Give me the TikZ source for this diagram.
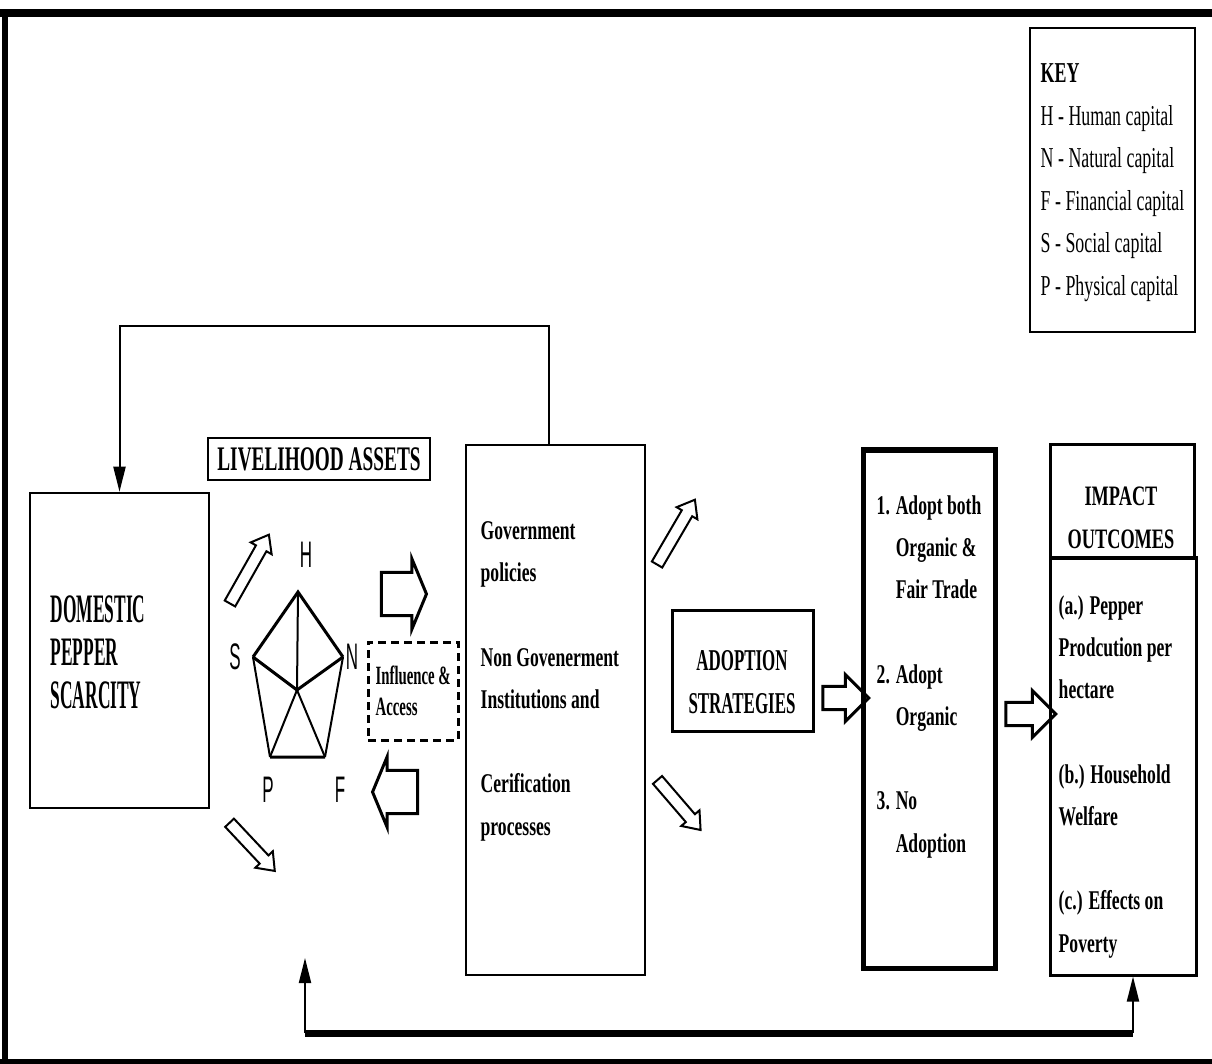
\documentclass[tikz,border=0pt]{standalone}
\usepackage{fontspec}
\setmainfont{Liberation Serif}
\newfontfamily\bodyserif[FakeStretch=0.65]{Liberation Serif}
\newfontfamily\keyserif[FakeStretch=0.62]{Liberation Serif}
\newfontfamily\capserif[FakeStretch=0.56]{Liberation Serif}
\newfontfamily\domserif[FakeStretch=0.43]{Liberation Serif}
\newfontfamily\pentsans[FakeStretch=0.46]{Liberation Sans}
\usetikzlibrary{shapes.arrows, arrows.meta, positioning, fit}

\begin{document}
\begin{tikzpicture}[x=0.01cm, y=-0.01cm,
  box/.style={draw, line width=0.025cm, inner sep=0pt},
  heavybox/.style={box, line width=0.05cm},
  boxtext/.style={font=\bodyserif\bfseries\fontsize{7.7}{12}\selectfont,
                  align=left, inner sep=0pt, anchor=north west},
  boxtitle/.style={font=\capserif\bfseries\fontsize{8.6}{12.2}\selectfont,
                   align=center, inner sep=0pt, anchor=north},
  keytext/.style={font=\keyserif\fontsize{8.2}{12.1}\selectfont,
                  align=left, inner sep=0pt, anchor=north west},
  pentlabel/.style={font=\pentsans\fontsize{10.5}{12}\selectfont, inner sep=0pt},
  slimarrow/.style={single arrow, draw, line width=0.02cm, inner xsep=0pt,
                    inner ysep=0.05cm, single arrow head extend=0.06cm,
                    single arrow tip angle=75},
  blockarrow/.style={single arrow, draw, line width=0.03cm, inner xsep=0pt,
                     inner ysep=0.2cm, single arrow head extend=0.14cm,
                     single arrow tip angle=135, minimum height=0.45cm},
  flowarrow/.style={single arrow, draw, line width=0.03cm, inner xsep=0pt,
                    inner ysep=0.1cm, single arrow head extend=0.12cm,
                    single arrow tip angle=90},
  arr/.style={-{Triangle[length=0.25cm, width=0.12cm]}, line width=0.02cm}
]
\useasboundingbox (0,0) rectangle (1212,1064);
\draw[line width=0.08cm] (0,13) -- (1212,13);
\draw[line width=0.05cm] (5,13) -- (5,1061);
\draw[line width=0.05cm] (0,1061) -- (1212,1061);

% key
\node[box, fit={(1030,28) (1195,332)}] (key) {};
\node[keytext] (keylist) at (1040,63) {\bfseries KEY\\H - Human capital\\N - Natural capital\\
  F - Financial capital\\S - Social capital\\P - Physical capital};

% boxes
\node[box, fit={(30,493) (209,808)}] (dom) {};
\node[boxtext, font=\domserif\bfseries\fontsize{11.5}{12.2}\selectfont] (domtxt)
  at (50,595) {DOMESTIC\\PEPPER\\SCARCITY};
\node[box, fit={(208,438) (430,480)}] (assets) {};
\node[font=\capserif\bfseries\fontsize{9.8}{12}\selectfont, inner sep=0pt] (assetstxt)
  at (assets.center) {LIVELIHOOD ASSETS};
\node[box, fit={(466,445) (645,975)}] (gov) {};
\node[boxtext] (govtxt) at (480,521) {Government\\policies\\[12pt]Non Govenerment\\
  Institutions and\\[12pt]Cerification\\processes};
\node[box, line width=0.03cm, fit={(672,610) (813,731)}] (adopt) {};
\node[boxtitle] (adopttxt) at (742,650) {ADOPTION\\STRATEGIES};
\node[heavybox, fit={(863,450) (995,968)}] (strat) {};
\node[boxtext] (strattxt) at (876,495) {1. Adopt both\\\phantom{1. }Organic \&\\
  \phantom{1. }Fair Trade\\[12pt]2. Adopt\\\phantom{2. }Organic\\[12pt]3. No\\
  \phantom{3. }Adoption};
\node[box, line width=0.03cm, fit={(1050,445) (1194,558)}] (imphead) {};
\node[boxtitle, font=\bodyserif\bfseries\fontsize{8}{12.2}\selectfont] (imptitle)
  at (1121,486) {IMPACT\\OUTCOMES};
\node[box, line width=0.03cm, fit={(1050,558) (1196,975)}] (imp) {};
\node[boxtext] (imptxt) at (1058,595) {(a.) Pepper\\Prodcution per\\hectare\\[12pt]
  (b.) Household\\Welfare\\[12pt](c.) Effects on\\Poverty};
\node[box, line width=0.03cm, dash pattern=on 0.08cm off 0.05cm,
  fit={(368,642) (458,740)}] (infl) {};
\node[boxtext, font=\capserif\bfseries\fontsize{7.5}{9}\selectfont] (infltxt)
  at (375,665) {Influence \&\\Access};

% asset pentagon
\coordinate (pH) at (298,592);
\coordinate (pN) at (343,657);
\coordinate (pF) at (325,757);
\coordinate (pP) at (270,757);
\coordinate (pS) at (253,657);
\coordinate (pc) at (297,690);
\draw[line width=0.03cm] (pS) -- (pH) -- (pN) (pP) -- (pF) (pS) -- (pc) -- (pN);
\draw[line width=0.02cm] (pS) -- (pP) (pN) -- (pF);
\foreach \v in {H,P,F}{
  \draw[line width=0.02cm] (pc) -- (p\v);
}
\foreach \v/\x/\y in {H/306/555, S/235/657, N/352/657, P/268/790, F/340/790}{
  \node[pentlabel] (l\v) at (\x,\y) {\v};
}

% block arrows
\node[blockarrow] (toinst) at (399.5,594) {};
\node[blockarrow, rotate=180] (frominst) at (399.5,792) {};
\node[flowarrow, minimum height=0.46cm] (tostrat) at (840,698) {};
\node[flowarrow, minimum height=0.5cm] (toimp) at (1025,714) {};
\node[slimarrow, minimum height=0.79cm, rotate=60.5] (upleft) at (247.5,572.5) {};
\node[slimarrow, minimum height=0.66cm, rotate=-46.8] (downleft) at (249.5,844) {};
\node[slimarrow, minimum height=0.75cm, rotate=59.7] (upgov) at (674,535.5) {};
\node[slimarrow, minimum height=0.66cm, rotate=-49.3] (downgov) at (676.5,802) {};

% feedback loops
\coordinate (fbtop) at (549,326);
\draw[arr] (fbtop |- gov.north) -- (fbtop) -| (dom.north);
\coordinate (fbleft) at (305,958);
\coordinate (fbright) at (1133,1033);
\draw[line width=0.07cm] (fbleft |- fbright) -- (fbright);
\draw[arr] (fbleft |- fbright) -- (fbleft);
\draw[arr] (fbright) -- (fbright |- imp.south);
\end{tikzpicture}
\end{document}
